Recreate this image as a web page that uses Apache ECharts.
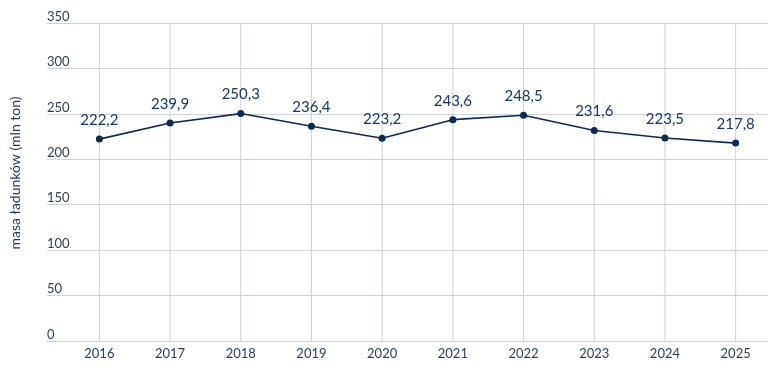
<!DOCTYPE html>
<html lang="pl">
<head>
<meta charset="UTF-8">
<title>Masa ładunków</title>
<script src="https://cdn.jsdelivr.net/npm/echarts@6/dist/echarts.min.js"></script>
<style>
  html, body { margin: 0; padding: 0; background: #fff; }
  #chart { width: 778px; height: 376px; }
</style>
</head>
<body>
<div id="chart"></div>
<script>
// dane
const years = ['2016', '2017', '2018', '2019', '2020', '2021', '2022', '2023', '2024', '2025'];
const cargo = [222.2, 239.9, 250.3, 236.4, 223.2, 243.6, 248.5, 231.6, 223.5, 217.8];
const yTitle = 'masa ładunków (mln ton)';

const navy = '#0f2a4e';
const gridColor = '#ccd1da';
const font = 'Lato, "Open Sans", sans-serif';

const chart = echarts.init(document.getElementById('chart'));
chart.setOption({
  animation: false,
  textStyle: { fontFamily: font },
  grid: [
    // horizontal grid lines + y labels
    { left: 35, right: 10, top: 23, bottom: 35 },
    // category axis + series
    { left: 64, right: 7, top: 23, bottom: 35 }
  ],
  xAxis: [
    { gridIndex: 0, type: 'value', show: false },
    {
      gridIndex: 1,
      type: 'category',
      data: years,
      boundaryGap: true,
      axisLine: { show: false },
      axisTick: { show: false },
      axisLabel: { color: '#2f3c52', fontSize: 13, margin: 6, fontFamily: font },
      splitLine: { show: false }
    }
  ],
  yAxis: [
    {
      gridIndex: 0,
      type: 'value',
      min: 0, max: 350, interval: 50,
      name: yTitle,
      nameLocation: 'middle',
      nameGap: 25,
      nameTextStyle: { color: '#1d3a63', fontSize: 14, fontFamily: font, padding: [0, 0, 0, 18] },
      axisLine: { show: false },
      axisTick: { show: false },
      axisLabel: {
        inside: true,
        margin: 0,
        color: '#2f3c52',
        fontSize: 13,
        verticalAlign: 'bottom',
        padding: [0, 0, 0, 0],
        fontFamily: font
      },
      splitLine: { lineStyle: { color: gridColor, width: 1 } }
    },
    {
      gridIndex: 1,
      type: 'value',
      min: 0, max: 350, interval: 50,
      show: false
    }
  ],
  series: [
    {
      type: 'line',
      xAxisIndex: 1,
      yAxisIndex: 1,
      data: cargo,
      symbol: 'circle',
      symbolSize: 7,
      lineStyle: { color: navy, width: 1.6 },
      itemStyle: { color: navy },
      label: {
        show: true,
        position: 'top',
        distance: 8,
        color: '#1b3660',
        fontSize: 15,
        fontFamily: font,
        formatter: p => String(p.value).replace('.', ',')
      },
      z: 5
    },
    {
      // vertical grid lines at the year positions
      type: 'bar',
      xAxisIndex: 1,
      yAxisIndex: 1,
      data: years.map(() => 350),
      barWidth: 1,
      itemStyle: { color: gridColor },
      silent: true,
      z: 1
    }
  ]
});
</script>
</body>
</html>
